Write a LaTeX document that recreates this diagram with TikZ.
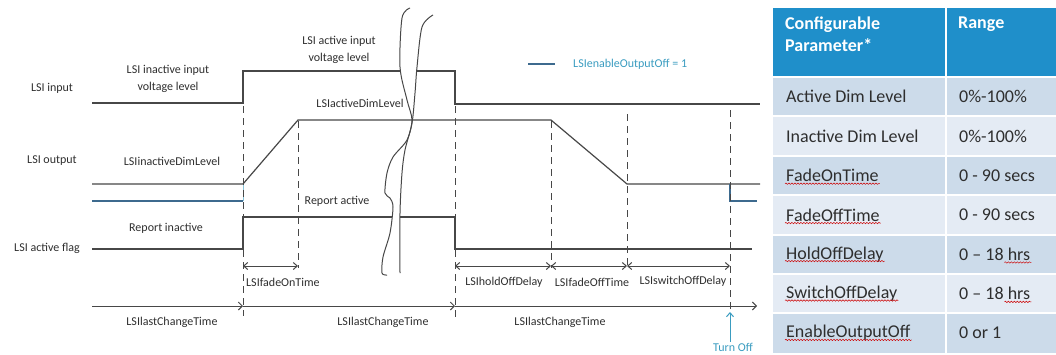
\documentclass[tikz,border=0pt]{standalone}
\usepackage{fontspec}
\setmainfont{Carlito}
\usetikzlibrary{arrows.meta,decorations.pathmorphing}
\definecolor{linec}{HTML}{474747}
\definecolor{txtc}{HTML}{2E2E2E}
\definecolor{bluel}{HTML}{3D6A8E}
\definecolor{tealc}{HTML}{3A9CC0}
\definecolor{headc}{HTML}{1F8FCA}
\definecolor{rowa}{HTML}{CCDBEA}
\definecolor{rowb}{HTML}{E4EBF4}
\begin{document}
\begin{tikzpicture}[x=1pt,y=-1pt,
  sig/.style={draw=linec,line width=1.2pt},
  bsig/.style={draw=bluel,line width=1.2pt},
  dashln/.style={draw=linec,line width=1pt,dash pattern=on 7pt off 5pt},
  dim/.style={draw=linec,line width=1pt,{Straight Barb[length=4pt,width=7pt]}-{Straight Barb[length=4pt,width=7pt]}},
  axis/.style={draw=linec,line width=1pt,-{Straight Barb[length=4pt,width=8pt]}},
  lbl/.style={text=txtc,font=\fontsize{12}{17}\selectfont,inner sep=1pt,align=center},
  ctext/.style={text=txtc,font=\fontsize{18}{21}\selectfont,anchor=west,inner sep=1pt},
  spell/.style={draw=red!80!black,line width=0.5pt,decorate,decoration={snake,amplitude=0.7pt,segment length=3pt}}
]
\useasboundingbox (0,0) rectangle (1056,354);
% ---------- coordinates ----------
\coordinate (i0) at (92,103);  \coordinate (i1) at (243,103);
\coordinate (i2) at (243,71);  \coordinate (i3) at (455,71);
\coordinate (i4) at (455,104); \coordinate (i5) at (760,104);
\coordinate (o0) at (92,184);  \coordinate (o1) at (243,184);
\coordinate (o2) at (298,120); \coordinate (o3) at (551,120);
\coordinate (o4) at (627,184); \coordinate (o5) at (760,184);
\coordinate (b0) at (92,201);  \coordinate (b1) at (243,201);
\coordinate (b2) at (730,184); \coordinate (b3) at (730,201); \coordinate (b4) at (757,201);
\coordinate (f0) at (92,249);  \coordinate (f1) at (243,249);
\coordinate (f2) at (243,217); \coordinate (f3) at (455,217);
\coordinate (f4) at (455,249); \coordinate (f5) at (752,249);
% ---------- signals ----------
\draw[sig] (i0) -- (i1) -- (i2) -- (i3) -- (i4) -- (i5);
\draw[sig] (o0) -- (o1) -- (o2) -- (o3) -- (o4) -- (o5);
\draw[bsig] (b0) -- (b1);
\draw[draw=tealc!60,line width=1pt] (o1) -- (b1);
\draw[bsig] (b2) -- (b3) -- (b4);
\draw[sig] (f0) -- (f1) -- (f2) -- (f3) -- (f4) -- (f5);
% ---------- dashed markers ----------
\coordinate (d1t) at (243,106); \coordinate (d1b) at (243,316);
\coordinate (d2t) at (298,121); \coordinate (d2b) at (298,268);
\coordinate (d3t) at (455,106); \coordinate (d3b) at (455,318);
\coordinate (d4t) at (551,121); \coordinate (d4b) at (551,268);
\coordinate (d5t) at (627,114); \coordinate (d5b) at (627,268);
\coordinate (d6t) at (730,110); \coordinate (d6b) at (730,318);
\foreach \n in {1,...,6} {\draw[dashln] (d\n t) -- (d\n b);}
% ---------- dimension arrows ----------
\coordinate (m1) at (243,266); \coordinate (m2) at (298,266);
\coordinate (m3) at (455,266); \coordinate (m4) at (551,266);
\coordinate (m5) at (627,266); \coordinate (m6) at (730,266);
\draw[dim] (m1) -- (m2);
\draw[dim] (m3) -- (m4);
\draw[dim] (m4) -- (m5);
\draw[dim] (m5) -- (m6);
% ---------- time axis ----------
\coordinate (t0) at (92,306); \coordinate (t1) at (243,306);
\coordinate (t2) at (455,306); \coordinate (t3) at (757,306);
\draw[axis] (t0) -- (t1);
\draw[axis] (t1) -- (t2);
\draw[axis] (t2) -- (t3);
% ---------- turn off ----------
\node[text=tealc,font=\fontsize{12}{14}\selectfont,inner sep=1pt] (turn) at (733,347) {Turn Off};
\coordinate (tt) at (730,312);
\draw[draw=tealc,line width=1pt,-{Straight Barb[length=4pt,width=7pt]}] (turn.north -| tt) -- (tt);
% ---------- legend ----------
\coordinate (l0) at (528,64); \coordinate (l1) at (555,64);
\draw[bsig] (l0) -- (l1);
\node[text=tealc,font=\fontsize{12}{14}\selectfont,anchor=west,inner sep=1pt] (leg) at (572,64) {LSIenableOutputOff = 1};
% ---------- labels ----------
\node[lbl] (n1) at (52,88) {LSI input};
\node[lbl] (n2) at (52,161) {LSI output};
\node[lbl] (n3) at (47,248) {LSI active flag};
\node[lbl] (n4) at (168,79) {LSI inactive input\\voltage level};
\node[lbl] (n5) at (339,50) {LSI active input\\voltage level};
\node[lbl] (n6) at (360,103) {LSIactiveDimLevel};
\node[lbl] (n7) at (172,161) {LSIinactiveDimLevel};
\node[lbl] (n8) at (337,201) {Report active};
\node[lbl] (n9) at (166,228) {Report inactive};
\node[lbl,anchor=west] (n10) at (245,282) {LSIfadeOnTime};
\node[lbl] (n11) at (504,282) {LSIholdOffDelay};
\node[lbl] (n12) at (592,282) {LSIfadeOffTime};
\node[lbl] (n13) at (683,281) {LSIswitchOffDelay};
\node[lbl] (n14) at (172,322) {LSIlastChangeTime};
\node[lbl] (n15) at (383,322) {LSIlastChangeTime};
\node[lbl] (n16) at (560,322) {LSIlastChangeTime};
% ---------- break symbol ----------
\fill[white] plot[smooth] coordinates {(410,8) (402,18) (400,67) (407,100) (412,120) (407,140) (393,157) (387,173) (385,193) (390,198) (393,207) (390,233) (383,257) (382,273) (387,275)}
  -- plot[smooth] coordinates {(400,273) (400,213) (402,173) (405,150) (412,123) (415,93) (417,67) (422,27) (433,15)} -- cycle;
\draw[linec,line width=1pt] plot[smooth] coordinates {(410,8) (402,18) (400,67) (407,100) (412,120) (407,140) (393,157) (387,173) (385,193) (390,198) (393,207) (390,233) (383,257) (382,273) (387,275)};
\draw[linec,line width=1pt] plot[smooth] coordinates {(433,15) (422,27) (417,67) (415,93) (412,123) (405,150) (402,173) (400,213) (400,273)};
% ---------- table ----------
\fill[headc] (773,8) rectangle (1056,76);
\draw[white,line width=2pt] (946,8) -- (946,76);
\node[text=white,font=\bfseries\fontsize{18}{22}\selectfont,anchor=north west,align=left,inner sep=0pt] (h1) at (785,17) {Configurable\\Parameter*};
\node[text=white,font=\bfseries\fontsize{18}{22}\selectfont,anchor=north west,inner sep=0pt] (h2) at (958,17) {Range};
\foreach \i/\c in {0/rowa,1/rowb,2/rowa,3/rowb,4/rowa,5/rowb,6/rowa} {
  \fill[\c] (773,{77+\i*39.4}) rectangle (1056,{77+(\i+1)*39.4});
}
\foreach \i in {1,...,6} {\draw[white,line width=2pt] (773,{77+\i*39.4}) -- (1056,{77+\i*39.4});}
\draw[white,line width=2pt] (773,77) -- (1056,77);
\draw[white,line width=2pt] (946,77) -- (946,354);
\node[ctext] (p1) at (785,96.7) {Active Dim Level};
\node[ctext] (r1) at (958,96.7) {0\%-100\%};
\node[ctext] (p2) at (785,136.1) {Inactive Dim Level};
\node[ctext] (r2) at (958,136.1) {0\%-100\%};
\node[ctext] (p3) at (785,175.5) {FadeOnTime};
\node[ctext] (r3) at (958,175.5) {0 - 90 secs};
\node[ctext] (p4) at (785,214.9) {FadeOffTime};
\node[ctext] (r4) at (958,214.9) {0 - 90 secs};
\node[ctext] (p5) at (785,254.3) {HoldOffDelay};
\node[ctext] (r5) at (958,254.3) {0 – 18 hrs};
\node[ctext] (p6) at (785,293.7) {SwitchOffDelay};
\node[ctext] (r6) at (958,293.7) {0 – 18 hrs};
\node[ctext] (p7) at (785,333.1) {EnableOutputOff};
\node[ctext] (r7) at (958,333.1) {0 or 1};
\foreach \n in {p3,p4,p5,p6,p7} {\draw[spell] ([yshift=-2pt]\n.base west) -- ([yshift=-2pt]\n.base east);}
\draw[spell] ([yshift=-2pt,xshift=-27pt]r5.base east) -- ([yshift=-2pt]r5.base east);
\draw[spell] ([yshift=-2pt,xshift=-27pt]r6.base east) -- ([yshift=-2pt]r6.base east);
\end{tikzpicture}
\end{document}
